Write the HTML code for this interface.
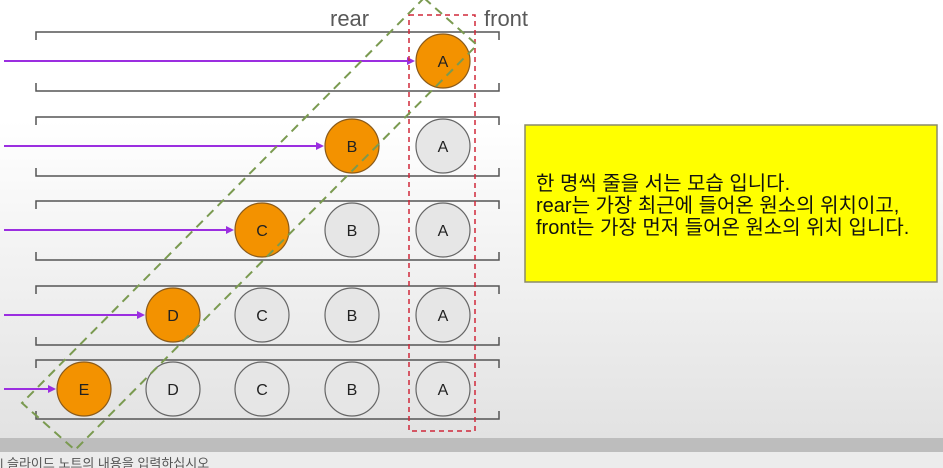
<!DOCTYPE html>
<html><head><meta charset="utf-8"><style>
html,body{margin:0;padding:0;width:943px;height:468px;overflow:hidden;}
body{background:linear-gradient(#ffffff 0px,#ffffff 120px,#e2e2e2 438px);font-family:"Liberation Sans","Noto Sans CJK KR",sans-serif;}
svg{position:absolute;left:0;top:0;}
</style></head><body>
<svg width="943" height="468" id="svg">
  <rect x="0" y="438" width="943" height="14" fill="#bdbdbd"/>
  <rect x="0" y="452" width="943" height="16" fill="#ececec"/>
  <text x="0" y="468" font-size="13" fill="#555">| 슬라이드 노트의 내용을 입력하십시오</text>
  <text x="330" y="26" font-size="22" fill="#595959">rear</text>
  <text x="484" y="26" font-size="22" fill="#595959">front</text>
  <g id="rows"></g>
  <rect x="409" y="15" width="66" height="416" fill="none" stroke="#d0283a" stroke-width="1.5" stroke-dasharray="5,4"/>
  <polygon points="424,-2 477,45 75,450 22,403" fill="none" stroke="#7a9a50" stroke-width="2" stroke-dasharray="9,6"/>
  <rect x="525" y="125" width="412" height="157" fill="#ffff00" stroke="#8a8a6a" stroke-width="1.5"/>
  <text font-size="20" fill="#111">
    <tspan x="536" y="190">한 명씩 줄을 서는 모습 입니다.</tspan>
    <tspan x="536" y="212">rear는 가장 최근에 들어온 원소의 위치이고,</tspan>
    <tspan x="536" y="234">front는 가장 먼저 들어온 원소의 위치 입니다.</tspan>
  </text>
</svg>
<script>
const rowCenters=[61,146,230,315,389];
const slotX=[443,352,262,173,84];
const items=['A','B','C','D','E'];
const ns='http://www.w3.org/2000/svg';
const g=document.getElementById('rows');
function mk(t,a){const e=document.createElementNS(ns,t);for(const k in a)e.setAttribute(k,a[k]);g.appendChild(e);return e;}
rowCenters.forEach((cy,i)=>{
  const top=cy-29,bot=cy+30;
  const b1=mk('path',{d:`M36,${top+8} V${top} H499 V${top+8}`,fill:'none',stroke:'#555','stroke-width':1.5});
  
  
  const b2=mk('path',{d:`M36,${bot-8} V${bot} H499 V${bot-8}`,fill:'none',stroke:'#555','stroke-width':1.5});
  
  
  for(let j=0;j<=i;j++){
    const x=slotX[j],newest=j===i;
    const c=mk('circle',{cx:x,cy:cy,r:27,fill:newest?'#f39200':'#e6e6e6',stroke:newest?'#8a5a1a':'#666','stroke-width':1.2});
    
    
    const t=mk('text',{x:x,y:cy+6,'text-anchor':'middle','font-size':16,fill:'#222'});
    t.textContent=items[j];
    
    
  }
  const ex=slotX[i]-28;
  const l=mk('line',{x1:4,y1:cy,x2:ex-6,y2:cy,stroke:'#9b2ee0','stroke-width':2});
  
  
  const h=mk('polygon',{points:`${ex},${cy} ${ex-8},${cy-4} ${ex-8},${cy+4}`,fill:'#9b2ee0'});
  
  
});
</script>
</body></html>
